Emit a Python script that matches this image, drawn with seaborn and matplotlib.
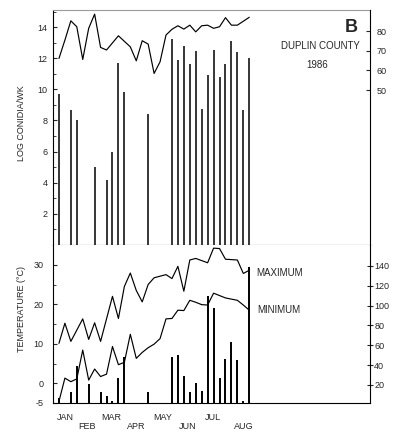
import numpy as np
import pandas as pd
import seaborn as sns
import matplotlib
matplotlib.use("Agg")
import matplotlib.pyplot as plt

sns.set_style("ticks")
plt.rcParams['font.family'] = ['Liberation Sans', 'DejaVu Sans']
plt.rcParams['axes.unicode_minus'] = False

# weekly data, week 0 = first week of January 1986
rh_weeks = [0, 1, 2, 3, 4, 5, 6, 7, 8, 10, 12, 13, 14, 15, 16, 17, 18, 19, 20, 21,
            22, 23, 24, 25, 26, 27, 28, 29, 30, 32]
rh_values = [66.1, 75.4, 85.2, 82.2, 65.6, 81.4, 88.6, 71.7, 70.4, 77.6, 72.0, 64.9,
             75.1, 73.4, 58.5, 64.4, 78.0, 80.9, 82.7, 81.0, 83.0, 79.6, 82.7, 83.0,
             81.4, 82.2, 86.8, 83.0, 83.0, 87.0]

conidia_weeks = [0, 2, 3, 6, 8, 9, 10, 11, 15, 19, 20, 21, 22, 23, 24, 25, 26, 27,
                 28, 29, 30, 31, 32]
conidia_log = [9.7, 8.7, 8.0, 5.0, 4.2, 6.0, 11.7, 9.8, 8.4, 13.25, 11.9, 12.8, 11.65,
               12.45, 8.75, 10.9, 12.5, 10.8, 11.65, 13.1, 12.4, 8.65, 12.0]

tmax_weeks = [0, 1, 2, 4, 5, 6, 7, 9, 10, 11, 12, 13, 14, 15, 16, 18, 19, 20, 21, 22,
              23, 25, 26, 27, 28, 29, 30, 31, 32]
tmax = [10.1, 15.2, 10.6, 16.3, 11.1, 15.3, 10.6, 22.0, 16.4, 24.5, 27.9, 23.5, 20.6,
        25.0, 26.7, 27.5, 26.5, 29.6, 23.3, 31.2, 31.6, 30.5, 34.2, 34.1, 31.4, 31.3,
        31.2, 27.8, 28.6]

tmin_weeks = list(range(33))
tmin = [-4.6, 1.3, 0.4, 1.1, 8.4, 0.8, 3.6, 1.7, 2.3, 9.3, 4.7, 5.3, 12.4, 6.3, 7.8,
        9.0, 9.9, 11.3, 16.3, 16.4, 18.5, 18.4, 21.0, 20.5, 19.9, 19.8, 22.8, 22.2,
        21.6, 21.3, 21.0, 19.8, 18.5]

rain_weeks = [0, 2, 3, 5, 7, 8, 9, 10, 11, 15, 19, 20, 21, 22, 23, 24, 25, 26, 27,
              28, 29, 30, 31, 32]
rain_mm = [6.6, 12.4, 39.6, 20.9, 13.1, 8.4, 3.8, 26.7, 48.5, 12.4, 48.0, 50.2, 29.2,
           12.4, 21.9, 13.4, 110.0, 97.4, 26.9, 46.1, 63.8, 45.4, 4.3, 139.0]

month_row1 = ["JAN", "MAR", "MAY", "JUL"]
month_row1_pos = [1.0, 8.86, 17.5, 25.9]
month_row2 = ["FEB", "APR", "JUN", "AUG"]
month_row2_pos = [4.65, 13.06, 21.7, 31.0]

W, H = 402, 432
fig = plt.figure(figsize=(W / 100, H / 100), dpi=100)
ax1 = fig.add_axes([53 / W, 187 / H, 317 / W, 235 / H])
ax2 = fig.add_axes([53 / W, 29 / H, 317 / W, 158 / H])
ax1r = ax1.twinx()
ax2r = ax2.twinx()

xlim = (-1.0, 52.3)

# top panel: conidia bars + humidity line
ax1.vlines(conidia_weeks, 0, conidia_log, color="black", lw=1.1)
ax1.set_xlim(*xlim)
ax1.set_ylim(0, 15.1)
ax1.set_yticks(range(2, 15, 2))
ax1.set_yticks(range(1, 16, 2), minor=True)
ax1.set_xticks([])
ax1.tick_params(axis="y", which="both", direction="in", labelsize=6.5, pad=4)
ax1.tick_params(axis="y", which="major", length=3)
ax1.tick_params(axis="y", which="minor", length=2)

sns.lineplot(x=rh_weeks, y=rh_values, ax=ax1r, color="black", lw=0.85)
ax1r.set_ylim(-28.6, 90.7)
ax1r.set_yticks([50, 60, 70, 80])
ax1r.tick_params(axis="y", direction="in", length=3, labelsize=6.5, pad=5)
ax1r.set_ylabel("")

# bottom panel: temperatures + rain bars
sns.lineplot(x=tmax_weeks, y=tmax, ax=ax2, color="black", lw=0.85)
sns.lineplot(x=tmin_weeks, y=tmin, ax=ax2, color="black", lw=0.85)
ax2.set_xlim(*xlim)
ax2.set_ylim(-4.75, 35.0)
ax2.set_yticks([-5, 0, 10, 20, 30])
ax2.set_yticks([5, 15, 25], minor=True)
ax2.tick_params(axis="y", which="both", direction="in", labelsize=6.5, pad=7)
ax2.tick_params(axis="y", which="major", length=3)
ax2.tick_params(axis="y", which="minor", length=2)
ax2.set_xticks(month_row1_pos)
ax2.set_xticklabels(month_row1)
ax2.set_xticks(month_row2_pos, minor=True)
ax2.set_xticklabels(month_row2, minor=True)
ax2.tick_params(axis="x", which="major", length=0, labelsize=6.5, pad=7.5)
ax2.tick_params(axis="x", which="minor", length=0, labelsize=6.5, pad=13.5)

ax2r.vlines(rain_weeks, 0, rain_mm, color="black", lw=1.4)
ax2r.set_ylim(1.8, 161.1)
ax2r.set_yticks(range(20, 141, 20))
ax2r.tick_params(axis="y", direction="inout", length=4, labelsize=6.5, pad=1)
ax2r.set_xlim(*xlim)

for a in (ax1, ax2, ax1r, ax2r):
    for s in a.spines.values():
        s.set_linewidth(0.8)
        s.set_color("black")
    a.grid(False)
for a in (ax1r, ax2r):
    a.spines["top"].set_visible(False)
    a.spines["left"].set_visible(False)
    a.spines["bottom"].set_visible(False)
ax1.spines["right"].set_visible(False)
ax2.spines["right"].set_visible(False)
ax2.spines["top"].set_visible(False)
ax1.spines["top"].set_color("#9a9a9a")

# texts
fig.text(351 / W, 1 - 27 / H, "B", fontsize=13, fontweight="bold", ha="center", va="center")
fig.text(320 / W, 1 - 46 / H, "DUPLIN COUNTY", fontsize=7, ha="center", va="center")
fig.text(317 / W, 1 - 65 / H, "1986", fontsize=7, ha="center", va="center")
fig.text(256 / W, 1 - 273 / H, "MAXIMUM", fontsize=7, ha="left", va="center")
fig.text(257 / W, 1 - 310 / H, "MINIMUM", fontsize=7, ha="left", va="center")
fig.text(22 / W, 1 - 123 / H, "LOG CONIDIA/WK", fontsize=6.5, rotation=90,
         ha="center", va="center")
fig.text(22 / W, 1 - 309 / H, "TEMPERATURE (°C)", fontsize=6.5, rotation=90,
         ha="center", va="center")

fig.savefig("out.png", dpi=100)
